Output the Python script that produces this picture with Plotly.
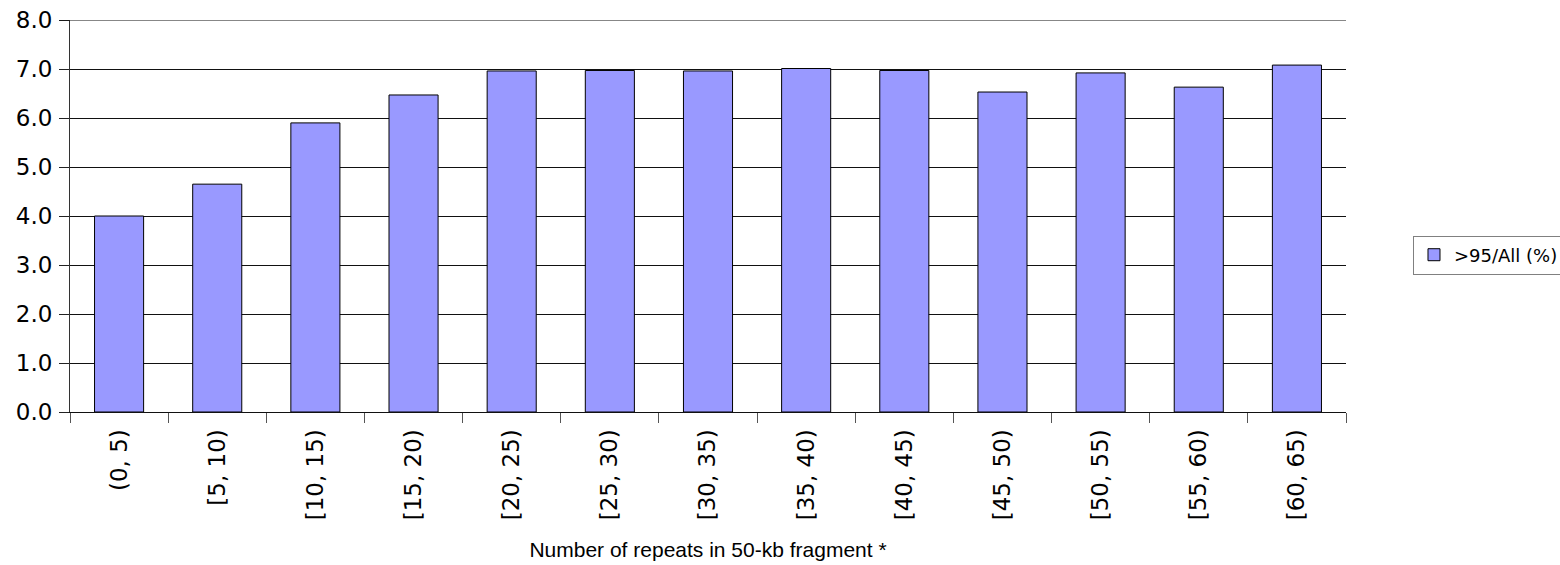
import plotly.graph_objects as go

categories = ["(0, 5)", "[5, 10)", "[10, 15)", "[15, 20)", "[20, 25)", "[25, 30)", "[30, 35)",
              "[35, 40)", "[40, 45)", "[45, 50)", "[50, 55)", "[55, 60)", "[60, 65)"]
ratio = [4.0, 4.65, 5.90, 6.47, 6.96, 6.97, 6.96, 7.01, 6.97, 6.53, 6.92, 6.63, 7.08]
y_ticks = [0, 1, 2, 3, 4, 5, 6, 7, 8]

tick_font = dict(family="DejaVu Sans", size=23, color="#000000")

fig = go.Figure(go.Bar(
    x=categories, y=ratio, name=">95/All (%)",
    marker=dict(color="#9999ff", line=dict(color="#000000", width=1)),
))

fig.update_layout(
    width=1560, height=565,
    margin=dict(l=70, r=214, t=20, b=153, autoexpand=False),
    plot_bgcolor="white", paper_bgcolor="white",
    bargap=0.5,
    font=dict(family="DejaVu Sans", size=22, color="#000000"),
    showlegend=True,
    legend=dict(x=1.0525, y=0.4005, xanchor="left", yanchor="middle",
                bordercolor="#808080", borderwidth=1,
                font=dict(family="DejaVu Sans", size=18)),
    # gridline at the top of the range is dropped by plotly, draw it here
    shapes=[dict(type="line", xref="paper", yref="y", x0=-0.008, x1=1, y0=8, y1=8,
                 line=dict(color="#111111", width=1))],
)
fig.update_yaxes(
    range=[0, 8], tickvals=y_ticks, tickformat=".1f", tickfont=tick_font,
    showgrid=True, gridcolor="#111111", gridwidth=1,
    showline=True, linecolor="#333333", linewidth=1,
    ticks="outside", ticklen=10, tickcolor="#222222",
    ticklabelstandoff=2,
    zeroline=False,
)
fig.update_xaxes(
    tickangle=-90, tickson="boundaries", ticks="outside", ticklen=10, tickcolor="#555555",
    tickfont=tick_font, ticklabelstandoff=7,
    showline=True, linecolor="#111111", linewidth=1,
    title=dict(text="Number of repeats in 50-kb fragment *",
               font=dict(family="Liberation Sans", size=21), standoff=22),
)

# drop the default 8px body margin so the figure sits at the page corner
fig.write_html("out.html", config={"displayModeBar": False},
               post_script="document.body.style.margin = '0';")
